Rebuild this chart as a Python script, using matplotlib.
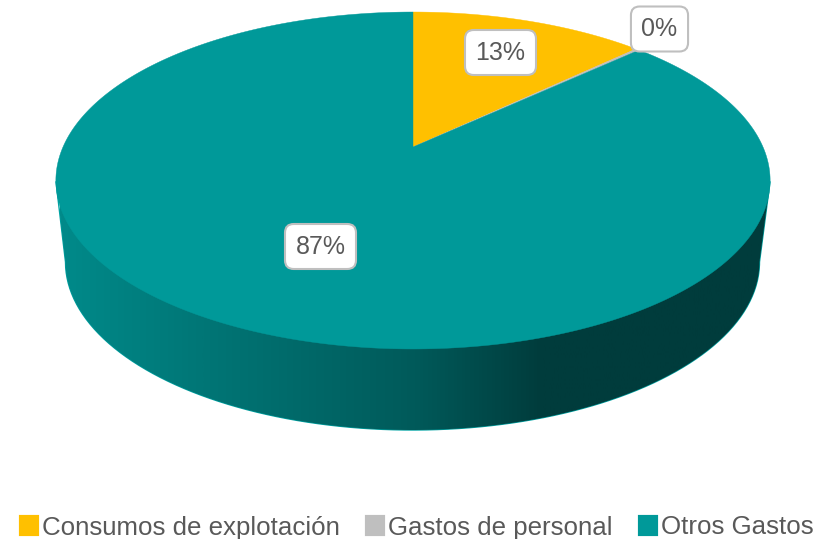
import numpy as np
import matplotlib
matplotlib.use('Agg')
import matplotlib.pyplot as plt
from matplotlib.patches import Polygon, Patch
from matplotlib.colors import LinearSegmentedColormap

plt.rcParams['font.family'] = ['Liberation Sans', 'DejaVu Sans']

categorias = ['Consumos de explotación', 'Gastos de personal', 'Otros Gastos']
valores = [12.9, 0.2, 86.9]
etiquetas = ['13%', '0%', '87%']
colores = ['#FFC000', '#BFBFBF', '#009999']

# donde van las cajas de texto, en pixeles
pos_etiquetas = [(500.5, 52.5), (659.5, 29), (320.5, 246.5)]


# disco visto en perspectiva: el centro del pastel no cae en el centro de la elipse
def tapa(t):
    u, v = np.sin(t), np.cos(t)
    d = 0.1988 * v + 1
    return 413 + 350 * u / d, (147 - 132.6 * v) / d


fig = plt.figure(figsize=(8.34, 5.39), dpi=100)
ax = fig.add_axes([0, 0, 1, 1])

# lateral con degradado
t_sil = np.linspace(-np.pi / 2, np.pi / 2, 200)
xs = np.r_[56, 412.5 + 347 * np.sin(t_sil), 770]
ys = np.r_[182, 262 + 168 * np.cos(t_sil), 182]
lateral = Polygon(np.c_[xs, ys], closed=True, facecolor='none', edgecolor='none')
ax.add_patch(lateral)
grad = LinearSegmentedColormap.from_list('lateral', [
    (0, '#008a8a'), (0.2, '#007676'), (0.5, '#005a5a'), (0.68, '#003c3c'), (1, '#003c3c')])
im = ax.imshow(np.linspace(0, 1, 512)[None, :], cmap=grad, extent=[60, 770, 540, 0],
               aspect='auto', zorder=1)
im.set_clip_path(lateral)
ax.plot(xs, ys, color='#00a3a3', lw=1, zorder=0.5)

# tapa, una cuña por valor
angulo = 0
for valor, color in zip(valores, colores):
    fin = angulo + valor / sum(valores) * 2 * np.pi
    a = np.linspace(angulo, fin, max(int(valor * 6), 2))
    x, y = tapa(a)
    ax.fill(np.r_[413, x], np.r_[147, y], color=color, lw=0.3, zorder=3)
    angulo = fin

ax.set_xlim(0, 834)
ax.set_ylim(539, 0)
ax.axis('off')

for texto, (px, py) in zip(etiquetas, pos_etiquetas):
    ax.text(px, py, texto, ha='center', va='center', fontsize=18, color='#595959', zorder=5,
            bbox=dict(boxstyle='round,pad=0.42,rounding_size=0.35', fc='white', ec='#BFBFBF', lw=1.5))

handles = [Patch(facecolor=c, edgecolor=c, lw=3, joinstyle='round', label=n)
           for n, c in zip(categorias, colores)]
ax.legend(handles=handles, ncol=3, frameon=False, fontsize=18.6, labelcolor='#595959',
          loc='center', bbox_to_anchor=(417 / 834, 1 - 527.5 / 539), bbox_transform=fig.transFigure,
          handlelength=0.62, handleheight=0.62, handletextpad=0.2, columnspacing=1.05,
          borderpad=0, borderaxespad=0)

fig.savefig('out.png', dpi=100)
